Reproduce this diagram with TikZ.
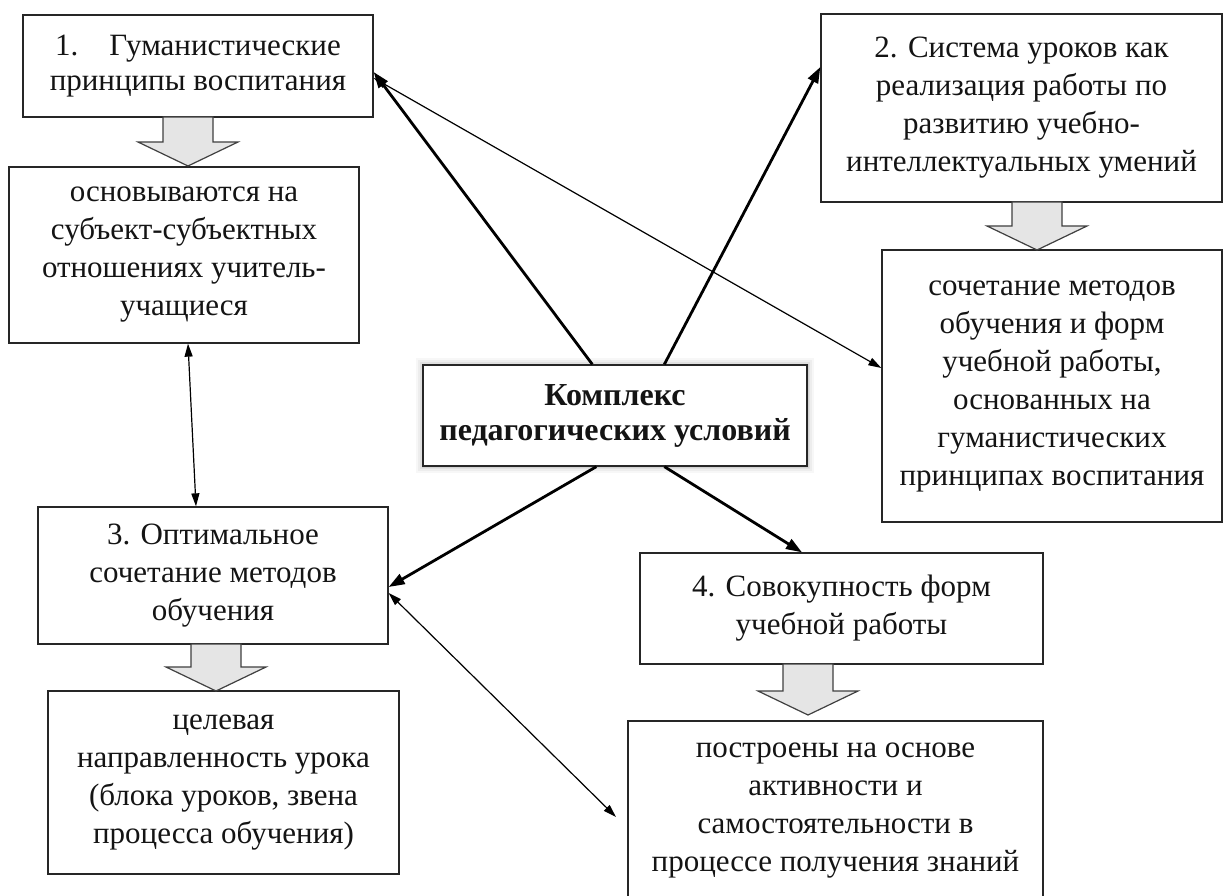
\documentclass[tikz,border=0pt]{standalone}
\usepackage{fontspec}
\setmainfont{Liberation Serif}
\usetikzlibrary{arrows.meta}
\newcommand\blockarr[3]{%
  \draw[blockarrow] (#1-25,#2) -- (#1+25,#2) -- (#1+25,#3-24) -- (#1+50,#3-24)
    -- (#1,#3) -- (#1-50,#3-24) -- (#1-25,#3-24) -- cycle;}
\begin{document}
\begin{tikzpicture}[x=1pt,y=-1pt,
  box/.style={draw=black!85,line width=1.3pt,align=center,inner sep=0pt,fill=white,
    text=black!92,font=\fontsize{31}{38}\selectfont},
  tightbox/.style={box,font=\fontsize{31}{35}\selectfont},
  thickarr/.style={line width=2.8pt,-{Triangle[length=16pt,width=11pt]}},
  thinarr/.style={line width=1.2pt,{Triangle[length=13pt,width=8pt]}-{Triangle[length=13pt,width=8pt]}},
  blockarrow/.style={fill=black!10,draw=black!75,line width=1.2pt,line join=miter}]

\clip (0,0) rectangle (1224,896);
\fill[white] (0,0) rectangle (1224,896);

% shadow of the central box
\foreach \s/\o in {7/0.03,5/0.04,3/0.05,1.5/0.06}
  \fill[black,opacity=\o] (423-\s,365-\s) rectangle (807+\s,466+\s);

\node[tightbox,minimum width=350,minimum height=102] (b1) at (198,66)
  {1.\hspace{1.0em}Гуманистические\\принципы воспитания};
\node[box,minimum width=350,minimum height=176] (b1b) at (184,255)
  {основываются на\\субъект-субъектных\\отношениях учитель-\\учащиеся};
\node[box,minimum width=401,minimum height=188] (b2) at (1021.5,108)
  {2. Система уроков как\\реализация работы по\\развитию учебно-\\интеллектуальных умений};
\node[box,minimum width=340,minimum height=272] (b2b) at (1052,386)
  {сочетание методов\\обучения и форм\\учебной работы,\\основанных на\\гуманистических\\принципах воспитания};
\node[tightbox,minimum width=384,minimum height=101,font=\fontsize{32}{35}\selectfont] (c) at (615,415.5)
  {\textbf{Комплекс}\\\textbf{педагогических условий}};
\node[box,minimum width=350,minimum height=137] (b3) at (213,575.5)
  {3. Оптимальное\\сочетание методов\\обучения};
\node[box,minimum width=351,minimum height=183] (b3b) at (223.5,782.5)
  {целевая\\направленность урока\\(блока уроков, звена\\процесса обучения)};
\node[box,minimum width=403,minimum height=111] (b4) at (841.5,608.5)
  {4. Совокупность форм\\учебной работы};
\node[box,minimum width=415,minimum height=179] (b4b) at (835.5,810.5)
  {построены на основе\\активности и\\самостоятельности в\\процессе получения знаний};

% block arrows
\blockarr{188}{117}{166}
\blockarr{1037}{202}{250}
\blockarr{216}{644}{691}
\blockarr{808}{664}{715}

% connectors
\coordinate (t34) at (616,817);
\draw[thickarr] ([xshift=170pt]c.north west) -- ([yshift=-6pt]b1.east);
\draw[thickarr] ([xshift=242pt]c.north west) -- ([yshift=41pt]b2.west);
\draw[thickarr] ([xshift=174pt]c.south west) -- ([yshift=-11.5pt]b3.east);
\draw[thickarr] ([xshift=242pt]c.south west) -- ([xshift=-39.5pt]b4.north);
\draw[thinarr] ([yshift=-12pt]b1.east) -- ([yshift=18pt]b2b.west);
\draw[thinarr] ([xshift=4pt]b1b.south) -- ([xshift=-17pt]b3.north);
\draw[thinarr] ([yshift=-17.5pt]b3.east) -- (t34);
\end{tikzpicture}
\end{document}
